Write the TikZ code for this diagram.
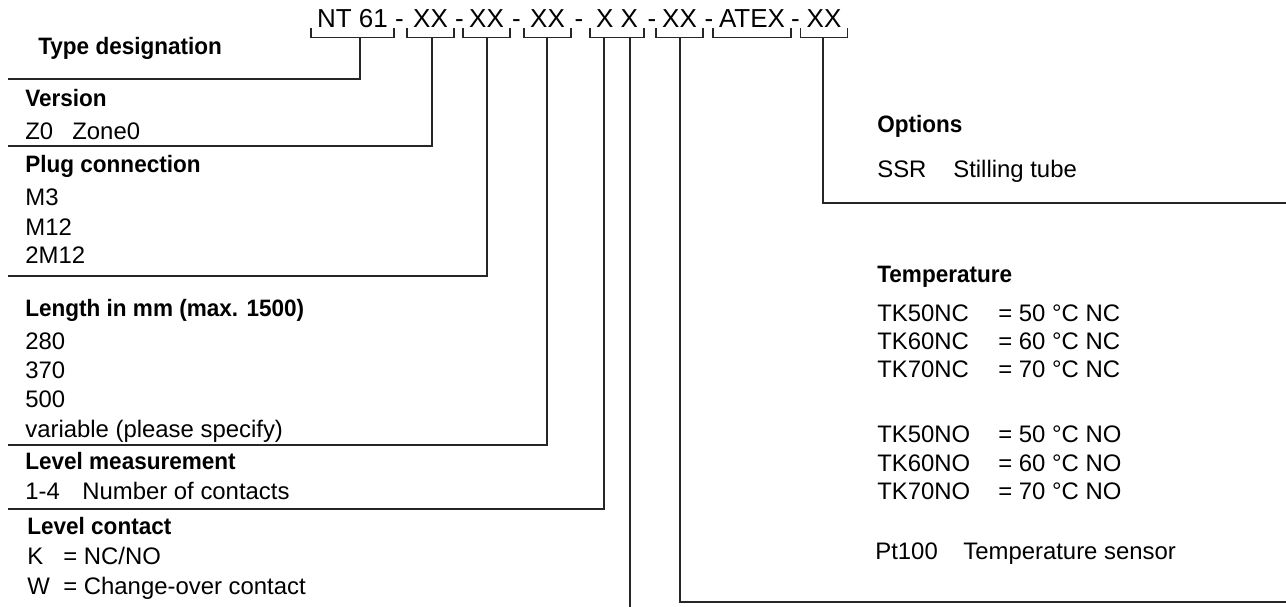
\documentclass[tikz,border=0pt]{standalone}
\usepackage{fontspec}
\setmainfont{Liberation Sans}
\newfontfamily\headfam[FakeStretch=0.95]{Liberation Sans}
\newcommand{\codefont}{\fontsize{14.8}{17}\selectfont}
\newcommand{\itemfont}{\fontsize{13.6}{16}\selectfont}
\newcommand{\headfont}{\headfam\bfseries\fontsize{13.5}{16}\selectfont}
\tikzset{
  code/.style={font=\codefont, inner xsep=3.3pt, inner ysep=0pt, text depth=0pt, anchor=base},
  hyph/.style={font=\codefont, inner sep=0pt, anchor=base},
  head/.style={font=\headfont, inner sep=0pt, anchor=base west},
  item/.style={font=\itemfont, inner sep=0pt, anchor=base west},
  brk/.style={line width=0.8pt, black!85},
  lead/.style={line width=1.1pt, black!85},
}
\begin{document}
\begin{tikzpicture}[x=0.02cm, y=0.02cm]
    \useasboundingbox (0,0) rectangle (1286,-607);
    % order code
    \foreach \n/\x/\t in {nt/352.5/NT 61, xa/430.5/XX, xb/486.5/XX, xc/547.5/XX,
                          xd/617/X X, xe/679.5/XX, atex/752/ATEX, xf/824/XX} {
        \node[code] (\n) at (\x,-28) {\t};
        \draw[brk] (\n.south west) -- ++(0,-9) -| (\n.south east);
    }
    \foreach \i/\x in {1/399.5,2/459.5,3/516.5,4/579,5/652,6/709,7/795.5}
        \node[hyph] (h\i) at (\x,-28) {-};

    % drop points under the brackets
    \coordinate (pNT) at (360,-37);
    \coordinate (pXA) at (432,-37);
    \coordinate (pXB) at (487,-37);
    \coordinate (pXC) at (547,-37);
    \coordinate (pXD1) at (604,-37);
    \coordinate (pXD2) at (630,-37);
    \coordinate (pXE) at (680,-37);
    \coordinate (pXF) at (823,-37);
    % line ends
    \coordinate (eType) at (8,-79);
    \coordinate (eVer) at (8,-146);
    \coordinate (ePlug) at (8,-276);
    \coordinate (eLen) at (8,-445);
    \coordinate (eLev) at (8,-509);
    \coordinate (eCon) at (630,-607);
    \coordinate (eTemp) at (1286,-602);
    \coordinate (eOpt) at (1286,-203);

    \draw[lead] (pNT) |- (eType);
    \draw[lead] (pXA) |- (eVer);
    \draw[lead] (pXB) |- (ePlug);
    \draw[lead] (pXC) |- (eLen);
    \draw[lead] (pXD1) |- (eLev);
    \draw[lead] (pXD2) -- (eCon);
    \draw[lead] (pXE) |- (eTemp);
    \draw[lead] (pXF) |- (eOpt);

    % left column
    \node[head] (type) at (38,-55) {Type designation};
    \node[head] (ver) at (25,-107) {Version};
    \node[item] (z0) at (25,-140) {Z0};
    \node[item] (zone) at (72,-140) {Zone0};
    \node[head] (plug) at (25,-173) {Plug connection};
    \foreach \i/\y/\t in {1/206/M3, 2/236/M12, 3/264/2M12}
        \node[item] (plug\i) at (25,-\y) {\t};
    \node[head] (len) at (25,-317) {Length in mm (max. 1500)};
    \foreach \i/\y/\t in {1/350/280, 2/379/370, 3/408/500, 4/438/variable (please specify)}
        \node[item] (len\i) at (25,-\y) {\t};
    \node[head] (lev) at (25,-470) {Level measurement};
    \node[item] (lev1) at (25,-500) {1-4};
    \node[item] (lev1t) at (82,-500) {Number of contacts};
    \node[head] (con) at (27,-535) {Level contact};
    \node[item] (conK) at (27,-565) {K};
    \node[item] (conKt) at (63,-565) {= NC/NO};
    \node[item] (conW) at (27,-595) {W};
    \node[item] (conWt) at (63,-595) {= Change-over contact};

    % right column
    \node[head] (opt) at (877,-133) {Options};
    \node[item] (ssr) at (877,-178) {SSR};
    \node[item] (ssrt) at (953,-178) {Stilling tube};
    \node[head] (temp) at (877,-283) {Temperature};
    \foreach \k/\y/\d/\c in {1/322/50/NC, 2/350/60/NC, 3/378/70/NC,
                             4/443/50/NO, 5/472/60/NO, 6/500/70/NO} {
        \node[item] (tk\k) at (877,-\y) {TK\d\c};
        \node[item] (tk\k v) at (998,-\y) {= \d\ °C \c};
    }
    \node[item] (pt) at (875,-560) {Pt100};
    \node[item] (ptt) at (963,-560) {Temperature sensor};
\end{tikzpicture}
\end{document}
